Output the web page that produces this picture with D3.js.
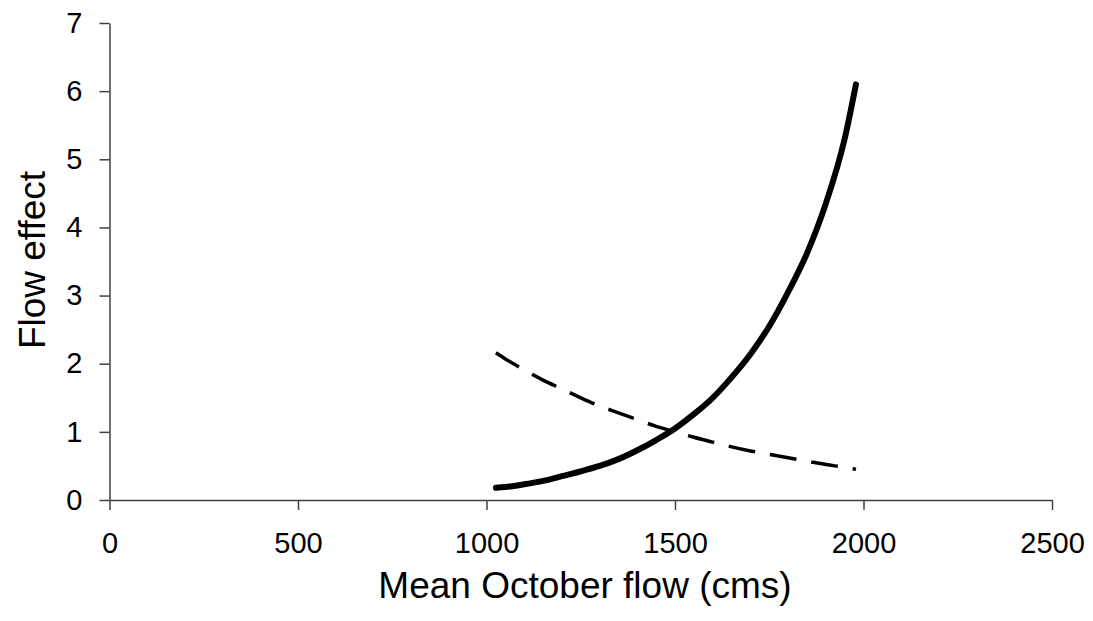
<!DOCTYPE html>
<html><head><meta charset="utf-8">
<script src="https://cdn.jsdelivr.net/npm/d3@7"></script>
<style>body{margin:0;background:#fff}svg{display:block}</style>
</head><body>
<svg id="c" width="1093" height="621"></svg>
<script>
const flowX = [1025,1050,1100,1150,1200,1250,1300,1350,1400,1450,1500,1550,1600,1650,1700,1750,1800,1850,1900,1950,1980];
const solidEffect = [0.18,0.19,0.23,0.28,0.35,0.42,0.50,0.60,0.73,0.88,1.05,1.26,1.50,1.80,2.14,2.55,3.05,3.62,4.35,5.30,6.10];
const dashedEffect = [2.16,2.07,1.91,1.76,1.63,1.50,1.38,1.28,1.18,1.08,1.00,0.92,0.85,0.78,0.72,0.67,0.62,0.57,0.52,0.48,0.45];
const xTicks = [0,500,1000,1500,2000,2500];
const yTicks = [0,1,2,3,4,5,6,7];

const svg = d3.select("#c");
const x = d3.scaleLinear().domain([0,2500]).range([109.5,1052]);
const y = d3.scaleLinear().domain([0,7]).range([500,23]);
const axisColor = "#404040";
const font = "'Liberation Sans', Arial, sans-serif";

const gx = svg.append("g").attr("transform","translate(0,500)")
  .call(d3.axisBottom(x).tickValues(xTicks).tickFormat(d3.format("d")).tickSize(10).tickPadding(22).tickSizeOuter(0));
const gy = svg.append("g").attr("transform","translate(109.5,0)")
  .call(d3.axisLeft(y).tickValues(yTicks).tickFormat(d3.format("d")).tickSize(10).tickPadding(17).tickSizeOuter(0));
[gx,gy].forEach(g=>{
  g.select(".domain").attr("stroke",axisColor).attr("stroke-width",1.5);
  g.selectAll(".tick line").attr("stroke",axisColor).attr("stroke-width",1.5);
  g.selectAll(".tick text").attr("font-family",font).attr("font-size",29).attr("fill","#000");
});
gx.selectAll(".tick text").attr("dy","0.71em");

const line = d3.line().x((d,i)=>x(flowX[i])).y(d=>y(d)).curve(d3.curveMonotoneX);
svg.append("path").datum(dashedEffect).attr("d",line)
  .attr("fill","none").attr("stroke","#000").attr("stroke-width",3.5).attr("stroke-dasharray","27,15");
svg.append("path").datum(solidEffect).attr("d",line)
  .attr("fill","none").attr("stroke","#000").attr("stroke-width",6).attr("stroke-linecap","round");

svg.append("text").attr("x",585).attr("y",598).attr("text-anchor","middle")
  .attr("font-family",font).attr("font-size",37).text("Mean October flow (cms)");
svg.append("text").attr("transform","translate(45,260) rotate(-90)").attr("text-anchor","middle")
  .attr("font-family",font).attr("font-size",37).text("Flow effect");
</script>
</body></html>
